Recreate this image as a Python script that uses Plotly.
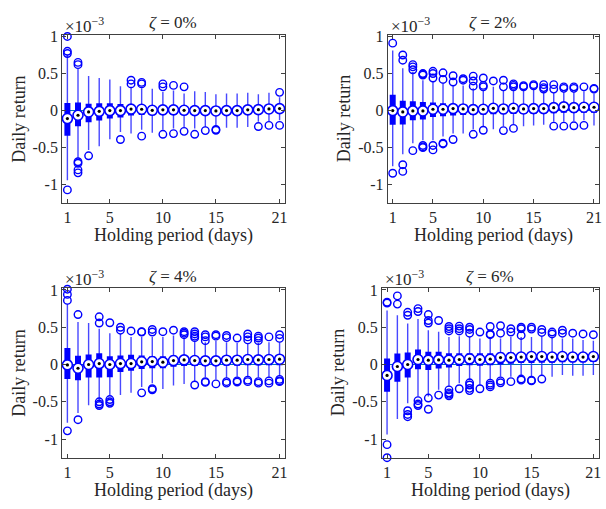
import plotly.graph_objects as go

W, H = 606, 509

periods = list(range(1, 22))
tick_x = [1, 5, 10, 15, 21]
tick_y = [-1, -0.5, 0, 0.5, 1]
tick_y_text = ["-1", "-0.5", "0", "0.5", "1"]
titles = ["ζ = 0%", "ζ = 2%", "ζ = 4%", "ζ = 6%"]

# values in units of 1e-3
med0 = [-0.107, -0.063, -0.018, -0.010, 0.000, 0.000, 0.020, 0.018, 0.004, 0.010, 0.010, 0.004, 0.000, 0.000, -0.005, 0.000, 0.000, 0.010, 0.013, 0.022, 0.027]
q3_0 = [0.103, 0.110, 0.094, 0.098, 0.098, 0.090, 0.080, 0.075, 0.065, 0.065, 0.060, 0.060, 0.055, 0.055, 0.050, 0.050, 0.050, 0.055, 0.055, 0.060, 0.065]
q1_0 = [-0.340, -0.210, -0.157, -0.134, -0.107, -0.094, -0.065, -0.060, -0.060, -0.055, -0.055, -0.050, -0.050, -0.050, -0.050, -0.045, -0.045, -0.040, -0.035, -0.030, -0.030]
whi0 = [0.75, 0.56, 0.465, 0.44, 0.42, 0.33, 0.32, 0.30, 0.295, 0.25, 0.27, 0.23, 0.26, 0.25, 0.22, 0.23, 0.23, 0.24, 0.22, 0.24, 0.18]
wlo0 = [-0.94, -0.64, -0.53, -0.48, -0.385, -0.29, -0.31, -0.26, -0.30, -0.26, -0.24, -0.22, -0.24, -0.22, -0.20, -0.23, -0.23, -0.22, -0.15, -0.14, -0.13]
out0 = [[1.0, 0.80, 0.77, -1.07], [0.65, 0.62, -0.69, -0.71, -0.80, -0.84], [-0.61], [], [], [-0.39],
        [0.41, 0.36], [0.38, 0.36, -0.345], [], [0.36, 0.32, -0.32], [0.34, -0.31], [0.32, -0.28],
        [-0.32], [-0.27], [-0.255, -0.265], [], [], [], [-0.215], [-0.20], [0.246, -0.20]]

med2 = [0.000, -0.018, -0.005, -0.005, 0.018, 0.018, 0.027, 0.022, 0.013, 0.018, 0.031, 0.022, 0.031, 0.022, 0.027, 0.027, 0.040, 0.050, 0.040, 0.045, 0.045]
q3_2 = [0.215, 0.134, 0.125, 0.116, 0.110, 0.100, 0.090, 0.085, 0.080, 0.080, 0.085, 0.080, 0.080, 0.075, 0.075, 0.075, 0.085, 0.090, 0.085, 0.085, 0.085]
q1_2 = [-0.190, -0.188, -0.130, -0.120, -0.085, -0.076, -0.065, -0.060, -0.060, -0.055, -0.050, -0.050, -0.045, -0.045, -0.045, -0.040, -0.035, -0.030, -0.030, -0.030, -0.030]
whi2 = [0.81, 0.57, 0.52, 0.41, 0.385, 0.36, 0.34, 0.34, 0.30, 0.27, 0.32, 0.27, 0.28, 0.27, 0.28, 0.25, 0.24, 0.25, 0.25, 0.26, 0.23]
wlo2 = [-0.75, -0.59, -0.44, -0.40, -0.40, -0.35, -0.31, -0.31, -0.25, -0.22, -0.25, -0.21, -0.18, -0.21, -0.20, -0.19, -0.15, -0.15, -0.14, -0.13, -0.20]
out2 = [[0.91, -0.845], [0.75, 0.68, -0.73, -0.82], [0.62, 0.59, 0.55, -0.54], [0.50, 0.48, 0.49, -0.47, -0.50, -0.49],
        [0.53, 0.50, 0.44, -0.47, -0.53], [0.51, 0.42, -0.44, -0.45], [0.47, 0.385, -0.39], [0.43, 0.41],
        [0.465, 0.40, 0.33, -0.32], [0.44, 0.34, 0.32, -0.265], [0.40], [0.41, 0.32, -0.27], [0.36, 0.34, 0.32, -0.24],
        [0.335, 0.32], [0.35, 0.335], [0.35, 0.31, 0.29], [0.35, 0.29, -0.21], [0.32, 0.30, -0.21],
        [0.32, 0.30, -0.205], [0.32, -0.20], [0.30, 0.29]]

med4 = [-0.005, -0.050, 0.000, 0.013, 0.000, 0.013, 0.013, 0.036, 0.040, 0.031, 0.053, 0.062, 0.053, 0.049, 0.049, 0.058, 0.058, 0.067, 0.062, 0.067, 0.071]
q3_4 = [0.223, 0.116, 0.133, 0.150, 0.110, 0.120, 0.130, 0.120, 0.110, 0.110, 0.120, 0.120, 0.110, 0.110, 0.110, 0.115, 0.115, 0.120, 0.120, 0.120, 0.125]
q1_4 = [-0.196, -0.210, -0.173, -0.173, -0.170, -0.100, -0.085, -0.060, -0.050, -0.050, -0.030, -0.020, -0.020, -0.020, -0.020, -0.015, -0.015, -0.010, -0.010, -0.010, -0.010]
whi4 = [0.81, 0.57, 0.556, 0.48, 0.42, 0.41, 0.37, 0.37, 0.37, 0.37, 0.39, 0.35, 0.32, 0.30, 0.32, 0.30, 0.29, 0.28, 0.29, 0.30, 0.30]
wlo4 = [-0.78, -0.65, -0.547, -0.475, -0.41, -0.41, -0.38, -0.30, -0.25, -0.33, -0.28, -0.26, -0.22, -0.17, -0.20, -0.18, -0.165, -0.155, -0.17, -0.18, -0.155]
out4 = [[1.01, 0.94, 0.86, -0.89], [0.67, -0.74], [], [0.64, 0.556, -0.50, -0.53, -0.55], [0.56, -0.47, -0.50, -0.52],
        [0.50, 0.46], [0.45], [0.44, 0.435, -0.38], [0.47, 0.435, -0.325, -0.34], [0.44], [0.46],
        [0.44, 0.42, 0.40], [0.44, 0.41, 0.38, 0.36, -0.275], [0.40, 0.37, 0.32, -0.23, -0.24], [0.40, 0.38, -0.26],
        [0.39, 0.36, -0.23, -0.25], [0.355, -0.22, -0.235], [0.41, 0.37, 0.33, -0.21, -0.23],
        [0.38, 0.355, 0.32, -0.23, -0.25], [0.37, -0.22, -0.25], [0.40, 0.35, -0.20, -0.22, -0.23]]

med6 = [-0.147, -0.027, 0.000, 0.067, 0.058, 0.062, 0.058, 0.067, 0.076, 0.067, 0.071, 0.093, 0.093, 0.100, 0.107, 0.107, 0.100, 0.107, 0.100, 0.100, 0.107]
q3_6 = [0.080, 0.147, 0.160, 0.200, 0.170, 0.170, 0.150, 0.150, 0.150, 0.150, 0.150, 0.160, 0.160, 0.160, 0.165, 0.165, 0.160, 0.165, 0.160, 0.160, 0.165]
q1_6 = [-0.365, -0.230, -0.173, -0.062, -0.075, -0.053, -0.040, -0.020, -0.010, -0.015, -0.010, 0.000, 0.010, 0.020, 0.020, 0.025, 0.025, 0.030, 0.030, 0.030, 0.035]
whi6 = [0.725, 0.66, 0.55, 0.61, 0.46, 0.44, 0.37, 0.38, 0.37, 0.35, 0.35, 0.35, 0.37, 0.37, 0.37, 0.37, 0.355, 0.35, 0.35, 0.33, 0.32]
wlo6 = [-0.94, -0.73, -0.52, -0.43, -0.43, -0.34, -0.30, -0.25, -0.21, -0.275, -0.20, -0.165, -0.165, -0.15, -0.155, -0.14, -0.165, -0.14, -0.15, -0.15, -0.14]
out6 = [[0.835, 0.825, -1.075, -1.25], [0.92, 0.81], [0.70, 0.66, -0.62, -0.67, -0.70], [0.75, 0.71, -0.485, -0.53, -0.55],
        [0.67, 0.59, 0.556, -0.45, -0.60], [0.59, -0.41], [0.51, 0.48, 0.45, -0.34, -0.38, -0.40, -0.42],
        [0.515, 0.48, 0.45, -0.325], [0.50, 0.47, 0.42, -0.245, -0.275, -0.32, -0.35], [0.435, -0.325],
        [0.51, 0.40, 0.41, -0.25, -0.275, -0.30], [0.52, 0.42, -0.22, -0.245], [0.48, 0.435, -0.23],
        [0.50, 0.48, 0.39, -0.195, -0.21], [0.50, 0.475, -0.21, -0.22], [0.47, 0.43, -0.195], [0.435, 0.41],
        [0.46, 0.42], [0.42], [0.41], [0.40]]

panels = [
    (med0, q1_0, q3_0, wlo0, whi0, out0),
    (med2, q1_2, q3_2, wlo2, whi2, out2),
    (med4, q1_4, q3_4, wlo4, whi4, out4),
    (med6, q1_6, q3_6, wlo6, whi6, out6),
]

# plot areas in pixels: (x0, x1, y0_top, y1_bottom)
areas = [(62.4, 286.3, 28, 199), (389.6, 602, 28, 199), (62.4, 286.3, 285, 457), (383.8, 601.5, 285, 457)]
ylab_x = [19, 346, 19, 340]

FONT = "Liberation Serif"
TXT = "#262626"
BLUE = "#0000ff"

fig = go.Figure()
annotations = []
layout = {}

def segs(xs, lo, hi):
    X, Y = [], []
    for x, a, b in zip(xs, lo, hi):
        X += [x, x, None]
        Y += [a, b, None]
    return X, Y

for k, (med, q1, q3, wlo, whi, outs) in enumerate(panels):
    n = "" if k == 0 else str(k + 1)
    xa, ya = "x" + n, "y" + n
    x0, x1, yt, yb = areas[k]
    wx, wy = segs(periods, wlo, whi)
    fig.add_trace(go.Scatter(x=wx, y=wy, mode="lines", xaxis=xa, yaxis=ya,
                             line=dict(color="rgba(40,40,255,0.85)", width=1.4), hoverinfo="skip"))
    bx, by = segs(periods, q1, q3)
    fig.add_trace(go.Scatter(x=bx, y=by, mode="lines", xaxis=xa, yaxis=ya,
                             line=dict(color=BLUE, width=6), hoverinfo="skip"))
    fig.add_trace(go.Scatter(x=periods, y=med, mode="markers", xaxis=xa, yaxis=ya, cliponaxis=False,
                             marker=dict(symbol="circle", size=10, color="white",
                                         line=dict(color=BLUE, width=1.6))))
    fig.add_trace(go.Scatter(x=periods, y=med, mode="markers", xaxis=xa, yaxis=ya, cliponaxis=False,
                             marker=dict(symbol="circle", size=3.2, color="black")))
    ox, oy = [], []
    for p, vals in zip(periods, outs):
        for v in vals:
            ox.append(p)
            oy.append(v)
    fig.add_trace(go.Scatter(x=ox, y=oy, mode="markers", xaxis=xa, yaxis=ya, cliponaxis=False,
                             marker=dict(symbol="circle-open", size=7.5, color=BLUE,
                                         line=dict(color=BLUE, width=1.4))))

    axcommon = dict(showline=True, linecolor="#404040", linewidth=1, mirror="ticks",
                    ticks="inside", ticklen=4, tickcolor="#404040", showgrid=False,
                    tickfont=dict(family=FONT, size=16, color=TXT))
    layout["xaxis" + n] = dict(axcommon, domain=[x0 / W, x1 / W], range=[0.5, 21.5],
                               tickvals=tick_x, anchor=ya, zeroline=False)
    layout["yaxis" + n] = dict(axcommon, domain=[1 - yb / H, 1 - yt / H], range=[-1.25, 1.025],
                               tickvals=tick_y, ticktext=tick_y_text, anchor=xa,
                               zeroline=True, zerolinecolor="#0072BD", zerolinewidth=1.2)
    cx = (x0 + x1) / 2
    cy = (yt + yb) / 2
    annotations.append(dict(text="<i>ζ</i>" + titles[k][1:], x=cx / W, y=1 - (yt - 12) / H,
                            xref="paper", yref="paper", xanchor="center", yanchor="middle",
                            showarrow=False, font=dict(family=FONT, size=17, color=TXT)))
    annotations.append(dict(text="×10<sup>−3</sup>", x=(x0 + 1) / W, y=1 - (yt - 10) / H,
                            xref="paper", yref="paper", xanchor="left", yanchor="middle",
                            showarrow=False, font=dict(family=FONT, size=17, color=TXT)))
    annotations.append(dict(text="Holding period (days)", x=cx / W, y=1 - (yb + 33) / H,
                            xref="paper", yref="paper", xanchor="center", yanchor="middle",
                            showarrow=False, font=dict(family=FONT, size=18, color=TXT)))
    annotations.append(dict(text="Daily return", x=ylab_x[k] / W, y=1 - cy / H, textangle=-90,
                            xref="paper", yref="paper", xanchor="center", yanchor="middle",
                            showarrow=False, font=dict(family=FONT, size=18, color=TXT)))

fig.update_layout(width=W, height=H, margin=dict(l=0, r=0, t=0, b=0), showlegend=False,
                  plot_bgcolor="white", paper_bgcolor="white", annotations=annotations, **layout)
fig.write_html("out.html", config={"displayModeBar": False},
               post_script=("document.body.style.margin='0px';document.body.style.overflow='hidden';"
                            "var d=document.querySelector('.plotly-graph-div');"
                            "d.style.position='absolute';d.style.left='0px';d.style.top='0px';"))
